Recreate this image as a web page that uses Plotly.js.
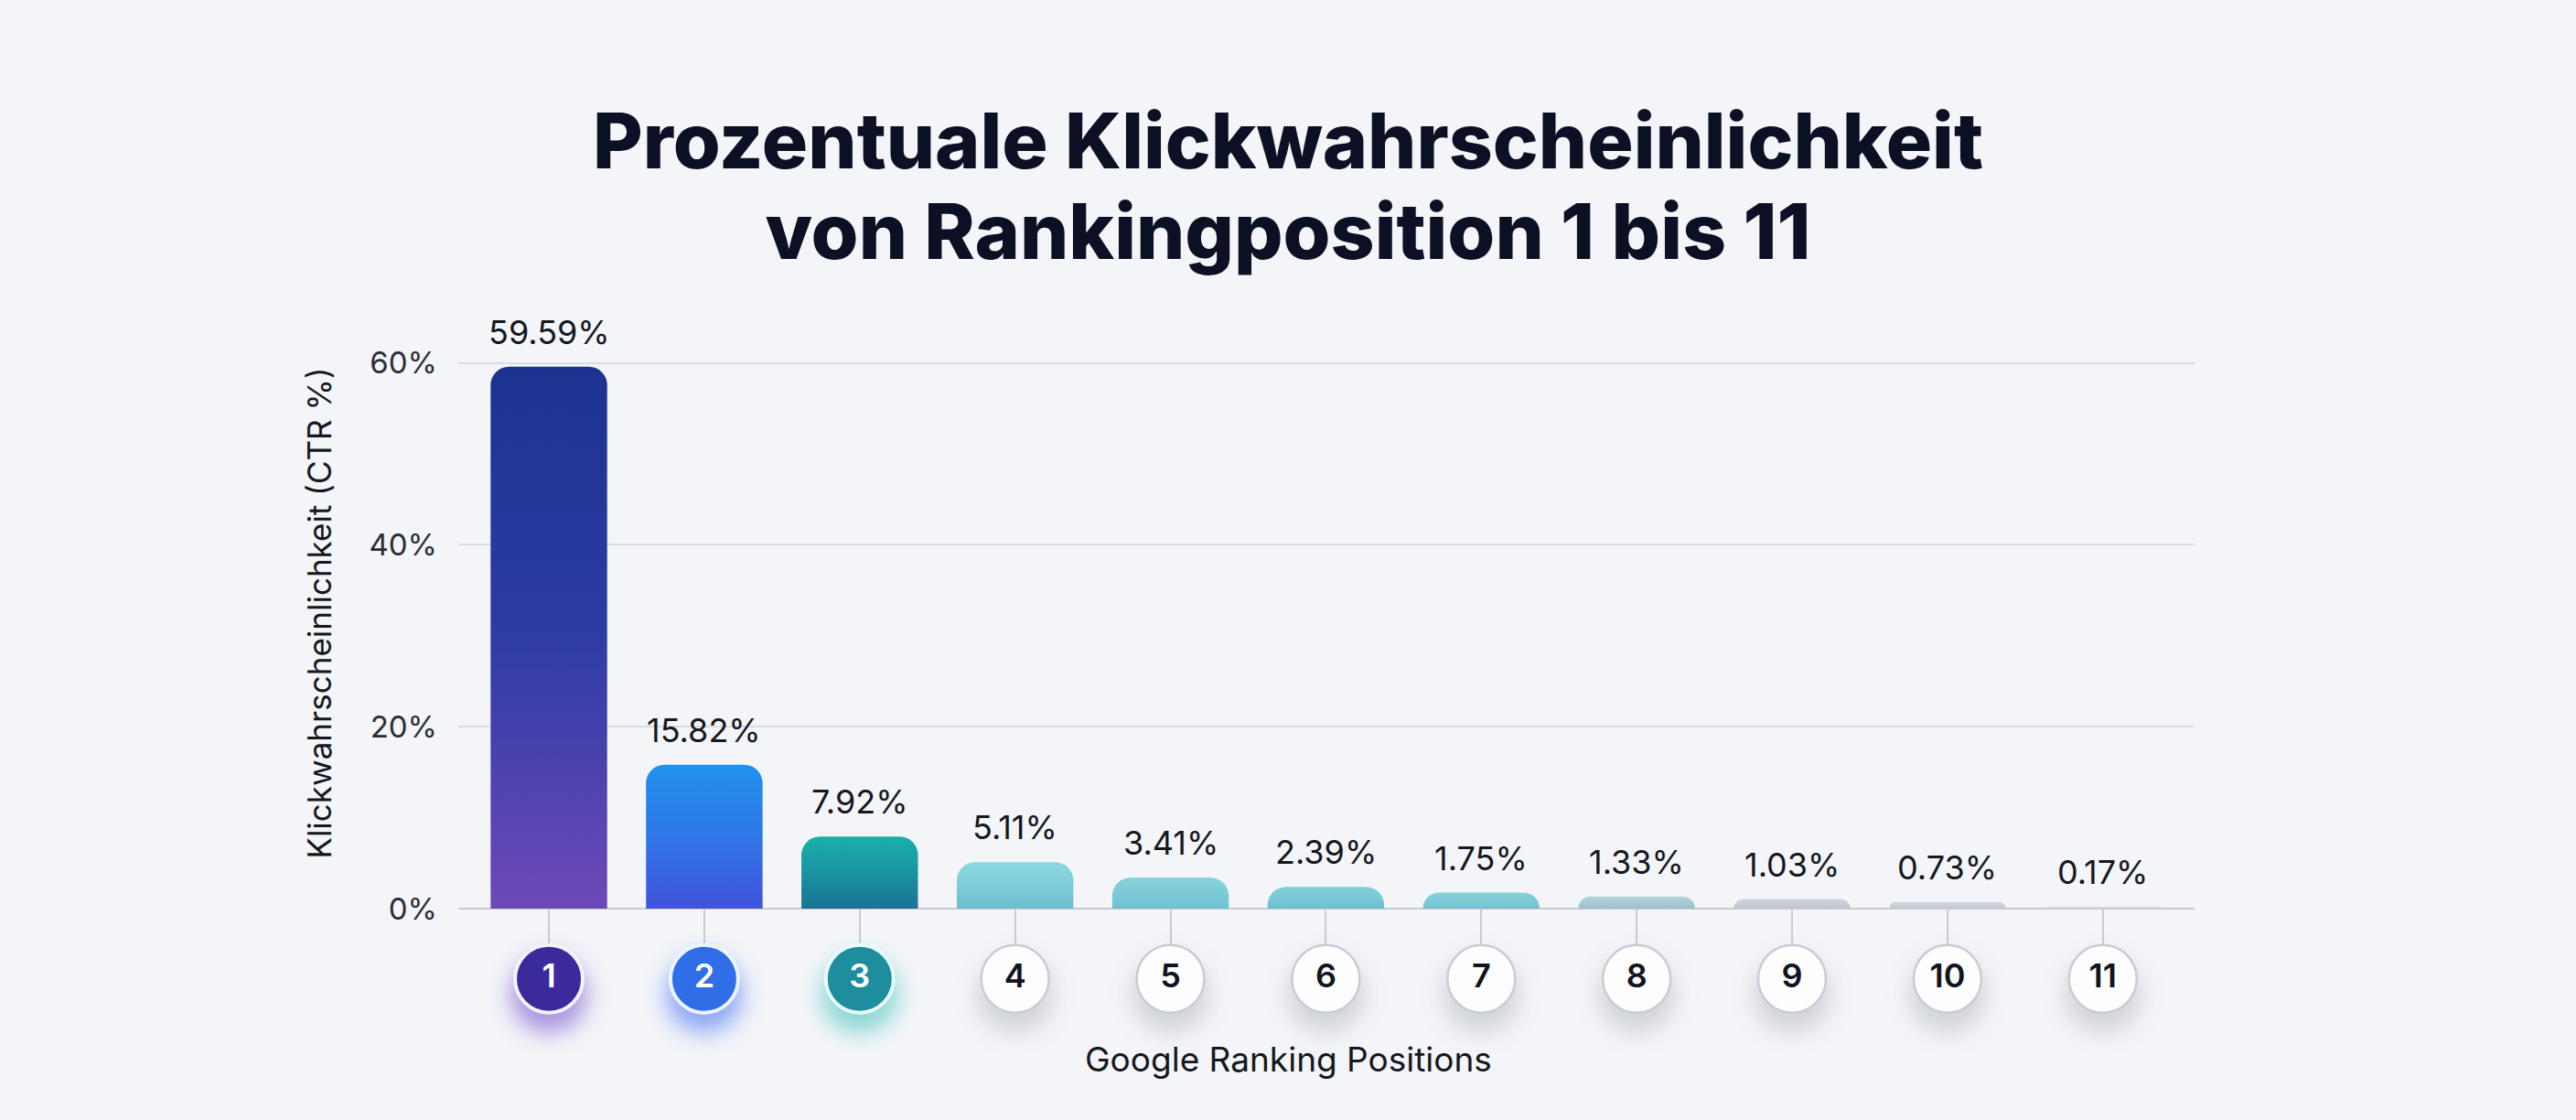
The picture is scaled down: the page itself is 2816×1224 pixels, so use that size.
<!DOCTYPE html>
<html lang="de">
<head>
<meta charset="utf-8">
<title>Klickwahrscheinlichkeit nach Rankingposition</title>
<script src="https://cdn.plot.ly/plotly-3.0.1.min.js"></script>
<style>
  html, body { margin: 0; padding: 0; background: #f4f5f8; }
  #chart { width: 2816px; height: 1224px; }
</style>
</head>
<body>
<div id="chart"></div>
<script>
// Click-through rate per Google ranking position
const positions = [1, 2, 3, 4, 5, 6, 7, 8, 9, 10, 11];
const positionLabels = ['1', '2', '3', '4', '5', '6', '7', '8', '9', '10', '11'];
const ctrValues = [59.59, 15.82, 7.92, 5.11, 3.41, 2.39, 1.75, 1.33, 1.03, 0.73, 0.17];
const yTickValues = [0, 20, 40, 60];
const yTickLabels = ['0%', '20%', '40%', '60%'];
const xAxisTitle = 'Google Ranking Positions';

// Styling
const BODY_FONT = 'Inter, Roboto, "Liberation Sans", Arial, sans-serif';
const TITLE_FONT = 'Inter, "Liberation Sans", Arial, sans-serif';
const BADGE_Y = 0.5;      // badge row centre on the lower helper axis (0..1)
const GLOW_Y = 0.33;

// top / middle / bottom colours of each bar's vertical gradient
const barGradients = [
  ['#1b338f', '#2e3ca4', '#6d49b8'],
  ['#2192ee', '#2f76e6', '#4153dc'],
  ['#19b0a9', '#1a93a2', '#1a7296'],
  ['#8bd8de', '#7dcdd8', '#6cbfd0'],
  ['#86d3da', '#7ccad6', '#70c1d1'],
  ['#82d0d9', '#79c8d5', '#6fbfd0'],
  ['#86d0d9', '#7ecad6', '#74c3d2'],
  ['#b6d2db', '#a9c9d4', '#9dc0cc'],
  ['#cfd2da', '#c8ccd5', '#c0c4ce'],
  ['#d2d5dc', '#cbcfd7', '#c4c8d1'],
  ['#d4d7de', '#cdd1d9', '#c7cbd3']
];
const badgeFill = ['#3a2a9c', '#2f6ee6', '#1e8d9e', '#fdfdfe', '#fdfdfe', '#fdfdfe',
                   '#fdfdfe', '#fdfdfe', '#fdfdfe', '#fdfdfe', '#fdfdfe'];
const badgeLine = ['#f4f2ff', '#eef4ff', '#e8fbfb', '#c9ccd4', '#c9ccd4', '#c9ccd4',
                   '#c9ccd4', '#c9ccd4', '#c9ccd4', '#c9ccd4', '#c9ccd4'];
const badgeLineWidth = [4, 4, 4, 2.5, 2.5, 2.5, 2.5, 2.5, 2.5, 2.5, 2.5];
const badgeText = ['#ffffff', '#ffffff', '#ffffff', '#12151d', '#12151d', '#12151d',
                   '#12151d', '#12151d', '#12151d', '#12151d', '#12151d'];
const glowColors = ['rgba(112,72,205,0.55)', 'rgba(60,105,245,0.55)', 'rgba(30,185,180,0.5)',
                    'rgba(120,126,142,0.28)', 'rgba(120,126,142,0.28)', 'rgba(120,126,142,0.28)',
                    'rgba(120,126,142,0.28)', 'rgba(120,126,142,0.28)', 'rgba(120,126,142,0.28)',
                    'rgba(120,126,142,0.28)', 'rgba(120,126,142,0.28)'];

const bars = {
  type: 'bar',
  x: positions,
  y: ctrValues,
  xaxis: 'x',
  yaxis: 'y',
  width: 0.75,
  marker: {
    color: barGradients.map(g => g[1]),
    line: { width: 0 },
    cornerradius: 20
  },
  hoverinfo: 'skip',
  showlegend: false
};

const badgeGlow = {
  type: 'scatter',
  mode: 'markers',
  x: positions,
  y: positions.map(() => GLOW_Y),
  xaxis: 'x',
  yaxis: 'y2',
  marker: { size: 84, color: glowColors, line: { width: 0 } },
  cliponaxis: false,
  hoverinfo: 'skip',
  showlegend: false
};

const badges = {
  type: 'scatter',
  mode: 'markers+text',
  x: positions,
  y: positions.map(() => BADGE_Y),
  xaxis: 'x',
  yaxis: 'y2',
  text: positionLabels,
  textposition: 'middle center',
  textfont: { family: BODY_FONT, size: 36, color: badgeText, weight: 600 },
  marker: {
    size: 74,
    color: badgeFill,
    line: { color: badgeLine, width: badgeLineWidth }
  },
  cliponaxis: false,
  hoverinfo: 'skip',
  showlegend: false
};

// value labels above each bar
const valueLabels = positions.map((p, i) => ({
  x: p,
  y: ctrValues[i],
  xref: 'x',
  yref: 'y',
  text: ctrValues[i].toFixed(2) + '%',
  showarrow: false,
  yanchor: 'bottom',
  yshift: 14,
  font: { family: BODY_FONT, size: 36, color: '#15181f' }
}));

// x-axis caption, centred on the page below the badge row
const xCaption = {
  text: xAxisTitle,
  xref: 'paper',
  yref: 'paper',
  x: 0.478,
  y: -0.049,
  xanchor: 'center',
  yanchor: 'middle',
  showarrow: false,
  font: { family: BODY_FONT, size: 37, color: '#15181f' }
};

const layout = {
  width: 2816,
  height: 1224,
  paper_bgcolor: '#f4f5f8',
  plot_bgcolor: 'rgba(0,0,0,0)',
  margin: { l: 501, r: 417, t: 347, b: 104 },
  title: {
    text: 'Prozentuale Klickwahrscheinlichkeit<br>von Rankingposition 1 bis 11',
    font: { family: TITLE_FONT, size: 84, color: '#0c1024', weight: 800 },
    x: 0.5,
    xanchor: 'center',
    yref: 'container',
    y: 0.85,
    yanchor: 'middle'
  },
  xaxis: {
    type: 'linear',
    anchor: 'y',
    range: [0.417, 11.59],
    tickvals: positions,
    ticks: 'outside',
    ticklen: 40,
    tickwidth: 2,
    tickcolor: '#c9ccd4',
    showticklabels: false,
    showgrid: false,
    zeroline: false,
    showline: false,
    fixedrange: true
  },
  yaxis: {
    domain: [0.1643, 1],
    anchor: 'x',
    range: [0, 65],
    tickvals: yTickValues,
    ticktext: yTickLabels,
    ticks: '',
    ticklabelstandoff: 22,
    tickfont: { family: BODY_FONT, size: 33, color: '#2a2d36' },
    showgrid: true,
    gridcolor: '#d9dce4',
    gridwidth: 2,
    zeroline: true,
    zerolinecolor: '#c8cbd3',
    zerolinewidth: 2.5,
    showline: false,
    fixedrange: true,
    title: {
      text: 'Klickwahrscheinlichkeit (CTR %)',
      font: { family: BODY_FONT, size: 35, color: '#15181f' },
      standoff: 30
    }
  },
  // helper axis holding the badge row under the bars
  yaxis2: {
    domain: [0, 0.13],
    anchor: 'x',
    range: [0, 1],
    visible: false,
    fixedrange: true
  },
  annotations: valueLabels.concat([xCaption]),
  bargap: 0.25,
  showlegend: false
};

function decorate(gd) {
  const svg = gd.querySelector('svg.main-svg');
  const ns = 'http://www.w3.org/2000/svg';
  let defs = svg.querySelector('defs');
  if (!defs) {
    defs = document.createElementNS(ns, 'defs');
    svg.insertBefore(defs, svg.firstChild);
  }

  // vertical gradients for the bars
  barGradients.forEach((stops, i) => {
    const lg = document.createElementNS(ns, 'linearGradient');
    lg.setAttribute('id', 'barGrad' + i);
    lg.setAttribute('x1', '0'); lg.setAttribute('y1', '0');
    lg.setAttribute('x2', '0'); lg.setAttribute('y2', '1');
    stops.forEach((c, k) => {
      const s = document.createElementNS(ns, 'stop');
      s.setAttribute('offset', (k / (stops.length - 1) * 100) + '%');
      s.setAttribute('stop-color', c);
      lg.appendChild(s);
    });
    defs.appendChild(lg);
  });
  gd.querySelectorAll('.barlayer .trace .point path').forEach((p, i) => {
    p.style.fill = 'url(#barGrad' + i + ')';
  });

  // soft glow under the position badges
  const f = document.createElementNS(ns, 'filter');
  f.setAttribute('id', 'badgeBlur');
  f.setAttribute('x', '-100%'); f.setAttribute('y', '-100%');
  f.setAttribute('width', '300%'); f.setAttribute('height', '300%');
  const blur = document.createElementNS(ns, 'feGaussianBlur');
  blur.setAttribute('stdDeviation', '12');
  f.appendChild(blur);
  defs.appendChild(f);
  const glowTrace = gd.querySelector('.subplot.xy2 .scatterlayer .trace');
  if (glowTrace) {
    glowTrace.querySelectorAll('.points path').forEach(p => p.setAttribute('filter', 'url(#badgeBlur)'));
  }

  // tighter line spacing for the two-line title
  const lines = gd.querySelectorAll('.gtitle tspan.line');
  if (lines.length > 1) lines[1].setAttribute('dy', '1.18em');
}

Plotly.newPlot('chart', [bars, badgeGlow, badges], layout, { staticPlot: true, displayModeBar: false })
  .then(decorate);
</script>
</body>
</html>
